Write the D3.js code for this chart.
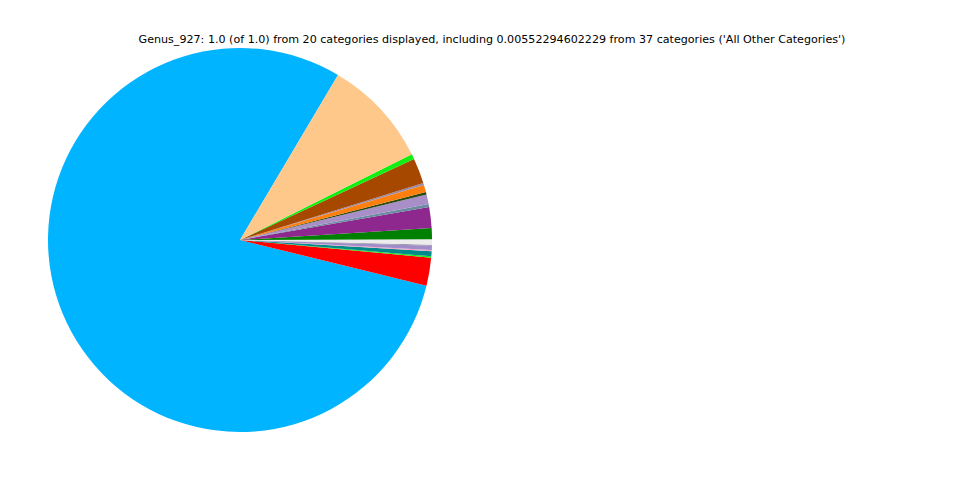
<!DOCTYPE html>
<html><head><meta charset="utf-8">
<script src="https://cdn.jsdelivr.net/npm/d3@7/dist/d3.min.js"></script>
<style>body{margin:0;background:#fff}svg{display:block}</style>
</head><body>
<script>
const titleText = "Genus_927: 1.0 (of 1.0) from 20 categories displayed, including 0.00552294602229 from 37 categories ('All Other Categories')";
const categories = ["c1","c2","c3","c4","c5","c6","c7","c8","c9","c10","c11","c12","c13","c14","c15","c16","c17","c18"];
const values = [79.7, 2.36, 0.11, 0.42, 0.11, 0.36, 0.08, 0.44, 0.94, 1.75, 0.25, 0.81, 0.22, 0.61, 0.17, 2.14, 0.42, 9.11];
const colors = ["#00b4ff","#ff0000","#1aee1a","#008b8b","#f4a6c8","#a08cc8","#8c8c9c","#ececec","#008000","#8e278e","#6a8ca0","#a98fc8","#2b4a10","#ff7f0e","#9a8aaa","#a64800","#13ee13","#fdc88a"];

const W = 960, H = 480;
const svg = d3.select("body").append("svg").attr("width", W).attr("height", H);
svg.append("text").attr("x", 492).attr("y", 43).attr("text-anchor", "middle")
  .attr("font-family", "DejaVu Sans").attr("font-size", 11.12).text(titleText);

const cx = 240, cy = 240, r = 192;
const start = (90 - 59.3) * Math.PI / 180;
const pie = d3.pie().sort(null).value(d => d.v).startAngle(start).endAngle(start - 2 * Math.PI);
const data = categories.map((c, i) => ({c, v: values[i], col: colors[i]}));
const arc = d3.arc().innerRadius(0).outerRadius(r);
svg.append("g").attr("transform", `translate(${cx},${cy})`)
  .selectAll("path").data(pie(data)).join("path")
  .attr("d", arc).attr("fill", d => d.data.col);
</script>
</body></html>
